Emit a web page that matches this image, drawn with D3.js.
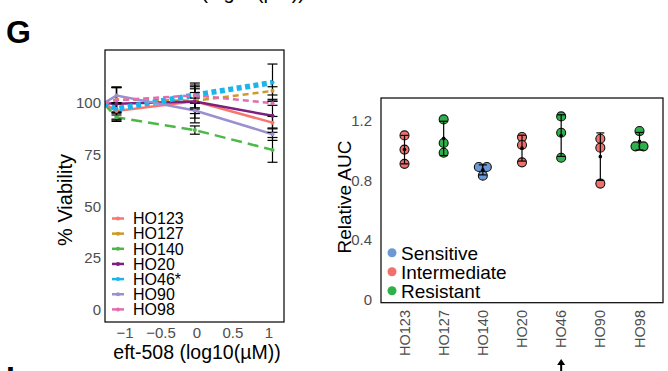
<!DOCTYPE html>
<html>
<head>
<meta charset="utf-8">
<script src="https://cdn.jsdelivr.net/npm/d3@7"></script>
<style>
  body { margin: 0; background: #fff; }
  svg { display: block; font-family: "Liberation Sans", Arial, sans-serif; }
</style>
</head>
<body>
<svg id="fig" width="668" height="371"></svg>
<script>
// panel G left: dose response per organoid line
const doses = [-1.3, -1.12, -0.03, 1.05];
const lines = ['HO123', 'HO127', 'HO140', 'HO20', 'HO46*', 'HO90', 'HO98'];
const viability = [
  [100, 96.3, 101.0, 90.6],
  [100, 101.8, 101.2, 106.0],
  [100, 93.2, 87.0, 77.4],
  [100, 99.8, 100.8, 93.9],
  [100, 97.3, 104.0, 110.0],
  [100, 103.7, 96.5, 85.0],
  [100, 101.5, 103.8, 100.0]
];
const viabErr = [
  [0, 4, 6, 3],
  [0, 6, 4, 2],
  [0, 2, 2, 6],
  [0, 8, 8, 8],
  [0, 3, 4, 9],
  [0, 4, 6, 3],
  [0, 6, 6, 1]
];
const xTicksL = [-1, -0.5, 0, 0.5, 1];
const yTicksL = [0, 25, 50, 75, 100];

// panel G right: relative AUC per line
const cellLines = ['HO123', 'HO127', 'HO140', 'HO20', 'HO46', 'HO90', 'HO98'];
const response = ['Intermediate', 'Resistant', 'Sensitive', 'Intermediate', 'Resistant', 'Intermediate', 'Resistant'];
const relAUC = [
  [1.10, 1.005, 0.91],
  [1.207, 1.049, 0.984],
  [0.889, 0.889, 0.831],
  [1.089, 1.036, 0.92],
  [1.227, 1.118, 0.951],
  [1.078, 1.018, 0.778],
  [1.129, 1.027, 1.027]
];
const classes = ['Sensitive', 'Intermediate', 'Resistant'];
const yTicksR = [0, 0.4, 0.8, 1.2];

// styles
const lineColor = ['#F8766D', '#CC9A2A', '#4DB848', '#7E1E80', '#1AB5EA', '#9A8FCF', '#E36DB0'];
const lineDash = [null, '6,4', '11,6', null, '5,3.5', null, '6,4'];
const lineWidth = [2.5, 2.5, 2.5, 2.5, 5.5, 2.5, 2.5];
const classColor = { Sensitive: '#6D98D6', Intermediate: '#F0706C', Resistant: '#2DB14B' };
const GREY = '#4D4D4D';

const svg = d3.select('#fig');

// ---------- left panel ----------
const L = { left: 105, right: 284, top: 50, bottom: 322 };
const xL = d3.scaleLinear().domain([-1.28, 1.21]).range([L.left, L.right]);
const yL = d3.scaleLinear().domain([-6, 125.8]).range([L.bottom, L.top]);

svg.append('defs').append('clipPath').attr('id', 'clipL')
  .append('rect').attr('x', L.left).attr('y', L.top)
  .attr('width', L.right - L.left).attr('height', L.bottom - L.top);

const gL = svg.append('g').attr('clip-path', 'url(#clipL)');
const lineGen = d3.line().x((d, i) => xL(doses[i])).y(d => yL(d));

lines.forEach((name, k) => {
  gL.append('path').datum(viability[k])
    .attr('fill', 'none').attr('stroke', lineColor[k])
    .attr('stroke-width', lineWidth[k])
    .attr('stroke-dasharray', lineDash[k])
    .attr('d', lineGen);
});

lines.forEach((name, k) => {
  viability[k].forEach((v, i) => {
    const e = viabErr[k][i];
    if (!e) return;
    const cx = xL(doses[i]);
    gL.append('line').attr('x1', cx).attr('x2', cx)
      .attr('y1', yL(v - e)).attr('y2', yL(v + e))
      .attr('stroke', '#000').attr('stroke-width', 1.2);
    [v - e, v + e].forEach(c => gL.append('line')
      .attr('x1', cx - 5).attr('x2', cx + 5).attr('y1', yL(c)).attr('y2', yL(c))
      .attr('stroke', '#000').attr('stroke-width', 1.2));
  });
});

lines.forEach((name, k) => {
  gL.selectAll(null).data(viability[k]).enter().append('circle')
    .attr('cx', (d, i) => xL(doses[i])).attr('cy', d => yL(d))
    .attr('r', 2).attr('fill', lineColor[k]);
});

svg.append('rect').attr('x', L.left).attr('y', L.top)
  .attr('width', L.right - L.left).attr('height', L.bottom - L.top)
  .attr('fill', 'none').attr('stroke', '#000').attr('stroke-width', 1.2);

svg.selectAll('.ytl').data(yTicksL).enter().append('text')
  .attr('x', 101).attr('y', d => yL(d)).attr('dy', '0.35em')
  .attr('text-anchor', 'end').attr('fill', GREY).attr('font-size', 15)
  .text(d => d);

svg.selectAll('.xtl').data(xTicksL).enter().append('text')
  .attr('x', d => xL(d)).attr('y', 338)
  .attr('text-anchor', 'middle').attr('fill', GREY).attr('font-size', 15)
  .text(d => d < 0 ? '\u2212' + Math.abs(d) : d);

svg.append('text').attr('transform', 'translate(72,200) rotate(-90)')
  .attr('text-anchor', 'middle').attr('font-size', 20).text('% Viability');
svg.append('text').attr('x', 197).attr('y', 359)
  .attr('text-anchor', 'middle').attr('font-size', 19.5).text('eft-508 (log10(\u00b5M))');

// legend
const legL = svg.append('g');
lines.forEach((name, k) => {
  const cy = 218.5 + k * 15.15;
  legL.append('line').attr('x1', 112).attr('x2', 124).attr('y1', cy).attr('y2', cy)
    .attr('stroke', lineColor[k]).attr('stroke-width', 2.5);
  legL.append('circle').attr('cx', 118).attr('cy', cy).attr('r', 2).attr('fill', lineColor[k]);
  legL.append('text').attr('x', 133).attr('y', cy).attr('dy', '0.36em')
    .attr('font-size', 16).text(name);
});

// ---------- right panel ----------
const R = { left: 381, right: 663, top: 98, bottom: 302.7 };
const xR = d3.scalePoint().domain(cellLines).range([R.left, R.right]).padding(0.6);
const yR = d3.scaleLinear().domain([-0.018, 1.35]).range([R.bottom, R.top]);

cellLines.forEach((name, k) => {
  const vals = relAUC[k];
  const cx = xR(name);
  // spread overlapping points side by side
  const off = vals.map(() => 0);
  const used = vals.map(() => false);
  vals.forEach((v, i) => {
    if (used[i]) return;
    const grp = vals.map((w, j) => j).filter(j => !used[j] && Math.abs(yR(vals[j]) - yR(v)) < 3);
    grp.forEach((j, n) => { used[j] = true; off[j] = (n - (grp.length - 1) / 2) * 8; });
  });
  svg.selectAll(null).data(vals).enter().append('circle')
    .attr('cx', (d, i) => cx + off[i]).attr('cy', d => yR(d)).attr('r', 4.5)
    .attr('fill', classColor[response[k]]).attr('stroke', '#111').attr('stroke-width', 1.1);

  const m = d3.mean(vals), sd = d3.deviation(vals);
  svg.append('line').attr('x1', cx).attr('x2', cx)
    .attr('y1', yR(m - sd)).attr('y2', yR(m + sd))
    .attr('stroke', '#000').attr('stroke-width', 1.2);
  [m - sd, m + sd].forEach(c => svg.append('line')
    .attr('x1', cx - 4).attr('x2', cx + 4).attr('y1', yR(c)).attr('y2', yR(c))
    .attr('stroke', '#000').attr('stroke-width', 1.2));
  svg.append('circle').attr('cx', cx).attr('cy', yR(m)).attr('r', 1.8).attr('fill', '#000');
});

svg.append('rect').attr('x', R.left).attr('y', R.top)
  .attr('width', R.right - R.left).attr('height', R.bottom - R.top)
  .attr('fill', 'none').attr('stroke', '#000').attr('stroke-width', 1.2);

svg.selectAll('.ytr').data(yTicksR).enter().append('text')
  .attr('x', 372).attr('y', d => yR(d)).attr('dy', '0.35em')
  .attr('text-anchor', 'end').attr('fill', GREY).attr('font-size', 15)
  .text(d => d);

svg.selectAll('.xtr').data(cellLines).enter().append('text')
  .attr('transform', d => `translate(${xR(d)},310) rotate(-90)`)
  .attr('dy', '0.35em').attr('text-anchor', 'end')
  .attr('fill', GREY).attr('font-size', 14.5).text(d => d);

svg.append('text').attr('transform', 'translate(351,197) rotate(-90)')
  .attr('text-anchor', 'middle').attr('font-size', 19).text('Relative AUC');

classes.forEach((c, i) => {
  const cy = 252.7 + i * 19;
  svg.append('circle').attr('cx', 392).attr('cy', cy).attr('r', 4.5).attr('fill', classColor[c]);
  svg.append('text').attr('x', 401).attr('y', cy).attr('dy', '0.36em')
    .attr('font-size', 19).text(c);
});

// arrow under HO46
const ax = xR('HO46');
svg.append('path')
  .attr('d', `M${ax},359 L${ax - 4},365 L${ax + 4},365 Z`).attr('fill', '#000');
svg.append('line').attr('x1', ax).attr('x2', ax).attr('y1', 364).attr('y2', 371)
  .attr('stroke', '#000').attr('stroke-width', 2);

// panel letters and the cut label of the panel above
svg.append('text').attr('x', 6).attr('y', 43).attr('font-size', 32)
  .attr('font-weight', 'bold').text('G');
svg.append('text').attr('x', 6).attr('y', 389).attr('font-size', 32)
  .attr('font-weight', 'bold').text('I');
svg.append('text').attr('x', 305).attr('y', -1).attr('text-anchor', 'end')
  .attr('font-size', 20).text('eft-508 (log10(\u00b5M))');
</script>
</body>
</html>
